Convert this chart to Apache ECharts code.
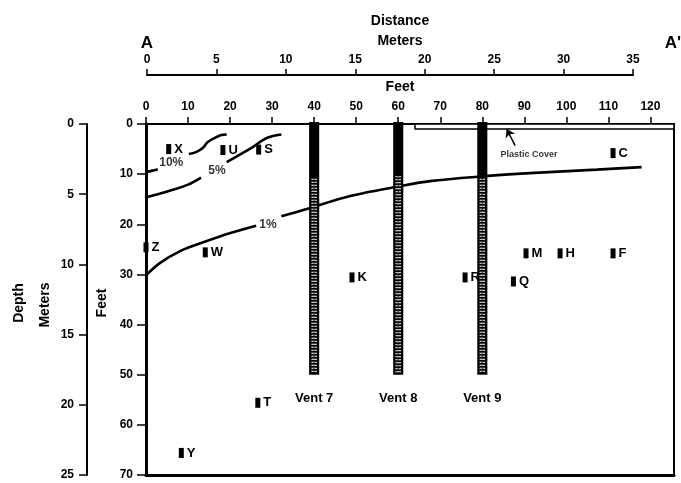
<!DOCTYPE html>
<html><head><meta charset="utf-8">
<script src="https://cdn.jsdelivr.net/npm/echarts@6/dist/echarts.min.js"></script>
<style>html,body{margin:0;padding:0;background:#fff}#c{width:681px;height:483px}</style>
</head><body><div id="c"></div>
<script>
// ---- data ----
const feetTicks = [0,10,20,30,40,50,60,70,80,90,100,110,120];
const meterTicks = [0,5,10,15,20,25,30,35];
const depthFeetTicks = [0,10,20,30,40,50,60,70];
const depthMeterTicks = [0,5,10,15,20,25];

const ventNames = ['Vent 7','Vent 8','Vent 9'];
const ventX = [40,60,80];
const ventTop = [0,0,0];
const ventBottom = [50,50,50];
const ventScreenTop = [10.5,10,10.5];

const wellNames = ['X','U','S','C','Z','W','M','H','F','K','R','Q','T','Y'];
const wellX =     [5.4,18.3,26.8,111.1,0,14.1,90.4,98.5,111.1,49.0,75.9,87.4,26.6,8.4];
const wellDepth = [5.0,5.2,5.1,5.8,24.6,25.6,25.8,25.8,25.8,30.6,30.6,31.4,55.6,65.6];

const c10a = [[0,9.6],[1.5,9.3],[2.8,9.0]];
const c10b = [[10.2,6.0],[11.9,5.6],[13.5,4.8],[14.7,3.6],[16.3,2.8],[17.9,2.2],[19.2,2.1]];
const c5a = [[0,14.6],[3.2,13.9],[6.4,13.1],[10,12.1],[13.1,10.7]];
const c5b = [[19.2,7.6],[22.3,6.1],[25.4,4.6],[28.2,3.0],[30.2,2.4],[32.2,2.1]];
const c1a = [[0,30.2],[3.2,27.8],[8,25.4],[14.3,23.4],[19.9,21.8],[26.2,20.3]];
const c1b = [[32.2,18.4],[38.9,16.8],[46.1,14.9],[51.6,13.8],[59.2,12.6],[67.5,11.4],[80.6,10.4],[91.3,9.8],[107.2,9.1],[117.9,8.6]];
const contourLabels = ['10%','5%','1%'];
const contourLabelX = [6.0,16.9,29.0];
const contourLabelDepth = [7.8,9.4,20.0];

const coverX = [64, 125.6];
const coverDepth = [0, 1];
const arrowFrom = [87.8,4.3];
const arrowTo = [85.8,1.0];
const coverLabel = 'Plastic Cover';
const coverLabelPos = [84.3,6.1];

const xMaxFeet = 125.6;
const ventLabelDepth = 54.7;

// ---- chart ----
const FONT = "'Liberation Sans', Arial, sans-serif";
const chart = echarts.init(document.getElementById('c'), null, {renderer:'canvas'});
const black = '#000';
const lineStyleBase = {color: black, width: 2.6};

function contourSeries(data){
  return {type:'line', data:data, xAxisIndex:0, yAxisIndex:0, showSymbol:false, symbol:'none',
    smooth:0.35, lineStyle:lineStyleBase, z:3, silent:true};
}
function txt(t, x, y, size, rot){
  const o = {type:'text', x:x, y:y, style:{text:t, x:0, y:0, align:'center', verticalAlign:'middle', font:"bold "+size+"px "+FONT, fill:black}};
  if (rot) o.rotation = rot;
  return o;
}

const option = {
  animation:false,
  backgroundColor:'#fff',
  grid:[
    {left:146, top:124, width:528, height:351, show:true, borderColor:black, borderWidth:2, containLabel:false},
    {left:147, top:75, width:486, height:1, show:false}
  ],
  xAxis:[
    {type:'value', gridIndex:0, position:'top', min:0, max:xMaxFeet,
     axisLine:{show:true, lineStyle:{color:black, width:2}},
     axisTick:{show:true, length:7, customValues:feetTicks, lineStyle:{color:black, width:1.5}},
     axisLabel:{show:true, customValues:feetTicks, margin:11, color:black, fontFamily:FONT, fontWeight:'bold', fontSize:12},
     splitLine:{show:false}},
    {type:'value', gridIndex:1, position:'top', min:0, max:35,
     axisLine:{show:true, onZero:false, lineStyle:{color:black, width:2}},
     axisTick:{show:true, length:6, customValues:meterTicks, lineStyle:{color:black, width:1.5}},
     axisLabel:{show:true, margin:9, color:black, fontFamily:FONT, fontWeight:'bold', fontSize:12,
       customValues:meterTicks},
     splitLine:{show:false}},
    {type:'value', gridIndex:0, position:'bottom', min:0, max:xMaxFeet,
     axisLine:{show:true, onZero:false, lineStyle:{color:black, width:3}},
     axisTick:{show:false}, axisLabel:{show:false}, splitLine:{show:false}}
  ],
  yAxis:[
    {type:'value', gridIndex:0, position:'left', inverse:true, min:0, max:70,
     axisLine:{show:true, onZero:false, lineStyle:{color:black, width:3}},
     axisTick:{show:true, length:9, customValues:depthFeetTicks, lineStyle:{color:black, width:1.5}},
     axisLabel:{show:true, margin:13, color:black, fontFamily:FONT, fontWeight:'bold', fontSize:12, customValues:depthFeetTicks},
     splitLine:{show:false}},
    {type:'value', gridIndex:0, position:'left', offset:59, inverse:true, min:0, max:25,
     axisLine:{show:true, onZero:false, lineStyle:{color:black, width:2}},
     axisTick:{show:true, length:8, customValues:depthMeterTicks, lineStyle:{color:black, width:1.5}},
     axisLabel:{show:true, margin:13, color:black, fontFamily:FONT, fontWeight:'bold', fontSize:12, customValues:depthMeterTicks},
     splitLine:{show:false}},
    {type:'value', gridIndex:1, show:false, min:0, max:1}
  ],
  graphic:[
    txt('Distance', 400, 21, 14),
    txt('Meters', 400, 41, 14),
    txt('Feet', 400, 87, 14),
    txt('A', 147, 43, 17),
    txt("A'", 673, 43, 17),
    txt('Depth', 19, 303, 14, Math.PI/2),
    txt('Meters', 45, 305, 14, Math.PI/2),
    txt('Feet', 102, 303, 14, Math.PI/2)
  ],
  series:[
    // plastic cover
    {type:'custom', xAxisIndex:0, yAxisIndex:0, z:2, silent:true,
     data:[[coverX[0], coverDepth[0], coverX[1], coverDepth[1]]],
     renderItem:function(params, api){
       const a = api.coord([api.value(0), api.value(1)]);
       const b = api.coord([api.value(2), api.value(3)]);
       return {type:'rect', shape:{x:a[0], y:a[1], width:b[0]-a[0], height:b[1]-a[1]},
         style:{fill:'#fff', stroke:black, lineWidth:1.5}};
     }},
    contourSeries(c10a), contourSeries(c10b),
    contourSeries(c5a), contourSeries(c5b),
    contourSeries(c1a), contourSeries(c1b),
    // contour labels
    {type:'scatter', xAxisIndex:0, yAxisIndex:0, symbolSize:0, z:4, silent:true,
     data:contourLabels.map((t,i)=>({value:[contourLabelX[i], contourLabelDepth[i]], name:t})),
     label:{show:true, position:'inside', formatter:'{b}', color:black, fontFamily:FONT, fontWeight:'bold', fontSize:12}},
    // vents
    {type:'custom', xAxisIndex:0, yAxisIndex:0, z:5, silent:true,
     data:ventX.map((x,i)=>[x, ventTop[i], ventBottom[i], ventScreenTop[i]]),
     renderItem:function(params, api){
       const x = api.value(0);
       const p0 = api.coord([x, api.value(1)]);
       const p1 = api.coord([x, api.value(2)]);
       const ps = api.coord([x, api.value(3)]);
       const pl = api.coord([x, ventLabelDepth]);
       const w = api.size([2.4, 0])[0];
       return {type:'group', children:[
         {type:'rect', shape:{x:p0[0]-w/2, y:p0[1]-2, width:w, height:p1[1]-p0[1]+2}, style:{fill:black}},
         {type:'line', shape:{x1:p0[0], y1:ps[1]+2, x2:p0[0], y2:p1[1]-2}, style:{stroke:'#fff', lineWidth:w-4.5, lineDash:[1,2]}},
         {type:'line', shape:{x1:p0[0], y1:ps[1]+2, x2:p0[0], y2:p1[1]-2}, style:{stroke:'#222', lineWidth:1, lineDash:[4,3]}},
         {type:'text', style:{text:ventNames[params.dataIndex], x:pl[0], y:pl[1], align:'center', verticalAlign:'middle',
           font:"bold 13px "+FONT, fill:black}}
       ]};
     }},
    // wells
    {type:'scatter', xAxisIndex:0, yAxisIndex:0, z:10, zlevel:1, silent:true, symbol:'rect', symbolSize:[5,10],
     itemStyle:{color:black, opacity:1},
     labelLayout:{hideOverlap:false},
     data:wellNames.map((n,i)=>({name:n, value:[wellX[i], wellDepth[i]]})),
     label:{show:true, position:'right', distance:3, formatter:'{b}', color:black, fontFamily:FONT, fontWeight:'bold', fontSize:13}},
    // arrow
    {type:'lines', coordinateSystem:'cartesian2d', xAxisIndex:0, yAxisIndex:0, z:6, silent:true,
     symbol:['none','arrow'], symbolSize:8,
     lineStyle:{color:black, width:1.5, opacity:1},
     data:[{coords:[arrowFrom, arrowTo]}]},
    // cover label
    {type:'scatter', xAxisIndex:0, yAxisIndex:0, symbolSize:0, z:6, silent:true,
     data:[{name:coverLabel, value:coverLabelPos}],
     label:{show:true, position:'right', distance:0, formatter:'{b}', color:black, fontFamily:FONT, fontWeight:'bold', fontSize:9}}
  ]
};
chart.setOption(option);
</script>
</body></html>
